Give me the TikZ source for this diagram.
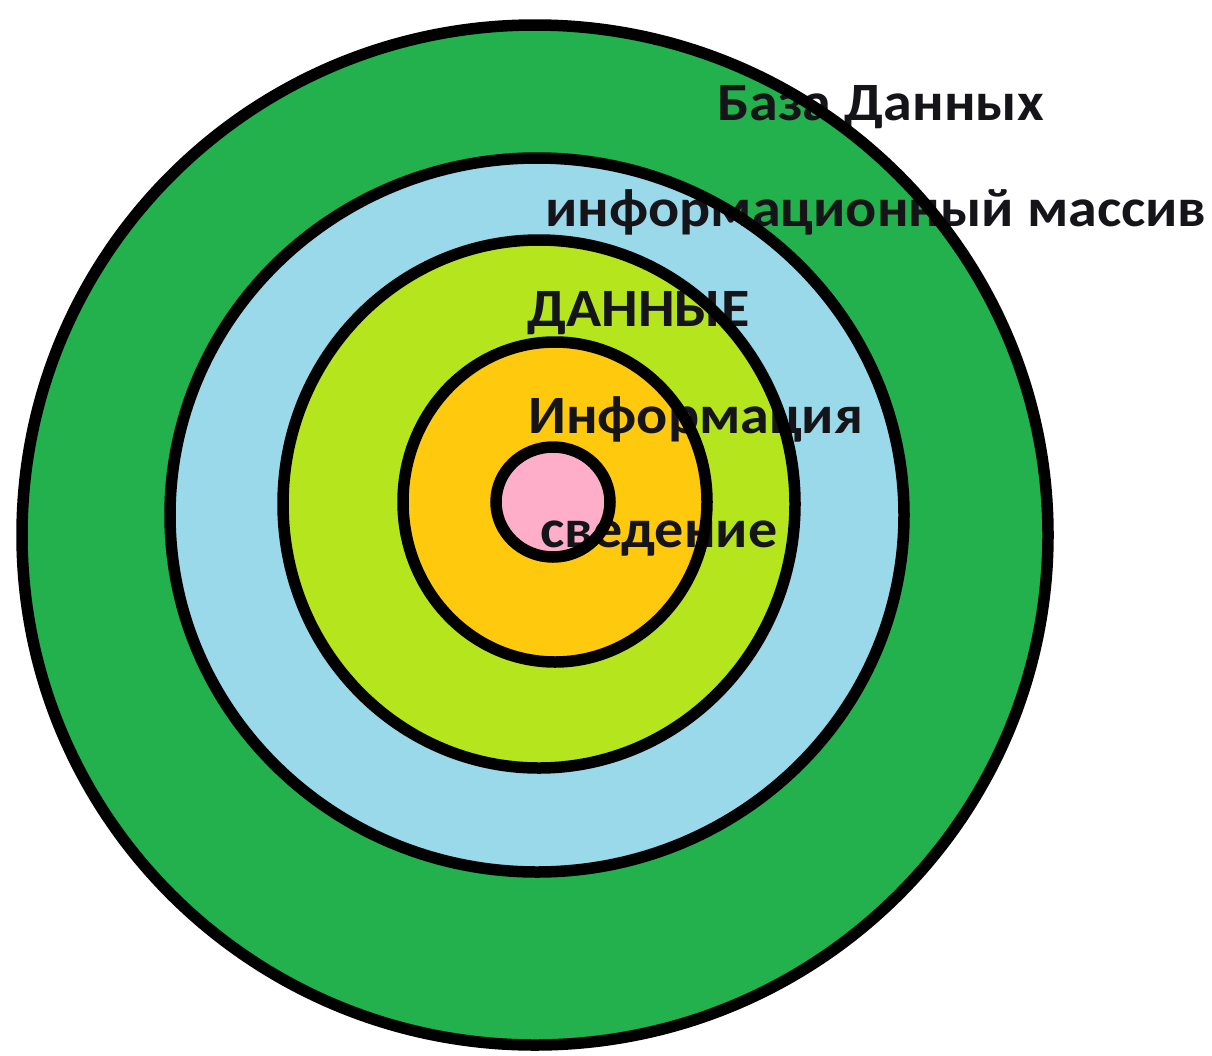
\documentclass[tikz,border=0pt]{standalone}
\usepackage{fontspec}
\setmainfont{Carlito}
\definecolor{pgreen}{RGB}{34,177,76}
\definecolor{pblue}{RGB}{153,217,234}
\definecolor{plime}{RGB}{181,230,29}
\definecolor{porange}{RGB}{255,201,14}
\definecolor{ppink}{RGB}{255,174,201}
\definecolor{ptext}{RGB}{20,20,25}
\begin{document}
\begin{tikzpicture}[x=1pt,y=-1pt,
  ring/.style={line width=11.5pt,draw=black},
  lbl/.style={anchor=base west,inner sep=0pt,text=ptext,xscale=1.075,
    font=\fontsize{54}{54}\selectfont\bfseries}]
\useasboundingbox[fill=white] (0,0) rectangle (1212,1055);
% fills
\fill[pgreen]  (535,535) ellipse [x radius=513, y radius=510];
\fill[pblue]   (537,515) ellipse [x radius=367, y radius=357];
\fill[plime]   (539,504) ellipse [x radius=256, y radius=264];
\fill[porange] (555,502) ellipse [x radius=152, y radius=160];
\fill[ppink]   (553,502) ellipse [x radius=57, y radius=55];
% labels
\node[lbl] (bd)  at (717,120) {База Данных};
\node[lbl] (im)  at (545,226) {информационный массив};
\node[lbl] (dan) at (527,326) {ДАННЫЕ};
\node[lbl] (inf) at (528,433) {Информация};
\node[lbl] (sv)  at (540,547) {сведение};
% outlines
\draw[ring] (535,535) ellipse [x radius=513, y radius=510];
\draw[ring] (537,515) ellipse [x radius=367, y radius=357];
\draw[ring] (539,504) ellipse [x radius=256, y radius=264];
\draw[ring] (555,502) ellipse [x radius=152, y radius=160];
\draw[ring] (553,502) ellipse [x radius=57, y radius=55];
\end{tikzpicture}
\end{document}
